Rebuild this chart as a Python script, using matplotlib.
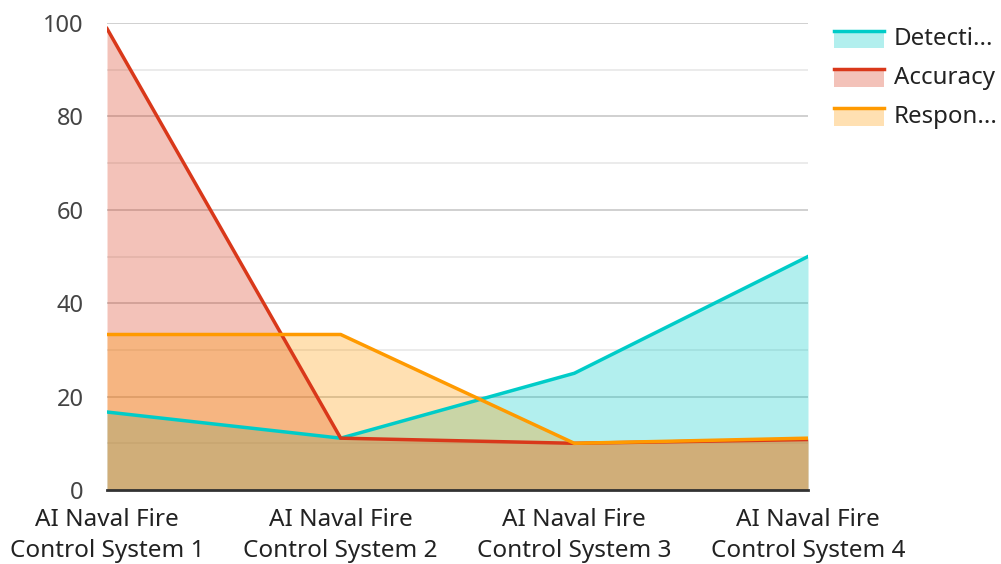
import matplotlib
matplotlib.use("Agg")
import matplotlib.pyplot as plt
from matplotlib.legend_handler import HandlerBase
from matplotlib.patches import Rectangle
from matplotlib.lines import Line2D

plt.rcParams['font.family'] = ['Noto Sans', 'DejaVu Sans']

categories = ["AI Naval Fire\nControl System 1", "AI Naval Fire\nControl System 2",
              "AI Naval Fire\nControl System 3", "AI Naval Fire\nControl System 4"]
series_names = ["Detecti...", "Accuracy", "Respon..."]
detection = [16.7, 11.1, 25.0, 50.0]
accuracy = [98.8, 11.1, 10.0, 10.8]
response = [33.3, 33.3, 10.0, 11.1]
colors = ["#00CCC8", "#D9381A", "#FF9A00"]
yticks = [0, 20, 40, 60, 80, 100]


class AreaHandler(HandlerBase):
    # legend key: light fill block with the line along its top edge
    def create_artists(self, legend, orig_handle, xdescent, ydescent,
                       width, height, fontsize, trans):
        c = orig_handle.get_color()
        top = height * 0.9
        rect = Rectangle((-xdescent, -ydescent - height * 0.2), width, top + height * 0.2,
                         facecolor=c, alpha=0.3, edgecolor='none', transform=trans)
        line = Line2D([-xdescent, -xdescent + width], [top, top], color=c,
                      lw=2.5, transform=trans)
        return [rect, line]


fig = plt.figure(figsize=(10.01, 5.64), dpi=100)
ax = fig.add_axes([0.1069, 0.1312, 0.7003, 0.828])

x = list(range(len(categories)))
handles = []
for vals, col in zip([detection, accuracy, response], colors):
    ax.fill_between(x, vals, 0, color=col, alpha=0.3, lw=0, zorder=2)
for vals, col, name in zip([detection, accuracy, response], colors, series_names):
    ln, = ax.plot(x, vals, color=col, lw=2.5, zorder=3, label=name,
                  solid_joinstyle='miter')
    handles.append(ln)

ax.set_xlim(0, 3)
ax.set_ylim(0, 100)
ax.set_yticks(yticks)
ax.set_yticks([10, 30, 50, 70, 90], minor=True)
ax.grid(axis='y', which='major', color='#C8C8C8', lw=1.2, zorder=1)
ax.grid(axis='y', which='minor', color='#E8E8E8', lw=1.2, zorder=1)
ax.set_xticks(x)
ax.set_xticklabels(categories, linespacing=1.4)
ax.tick_params(axis='y', which='both', length=0, pad=17, labelsize=17, labelcolor='#444444')
ax.tick_params(axis='x', length=0, pad=13, labelsize=17.5, labelcolor='#222222')

for s in ['top', 'right', 'left']:
    ax.spines[s].set_visible(False)
ax.spines['bottom'].set_color('#333333')
ax.spines['bottom'].set_linewidth(2)
ax.spines['bottom'].set_zorder(4)

fig.legend(handles=handles, labels=series_names, handler_map={Line2D: AreaHandler()},
           loc='upper left', bbox_to_anchor=(0.812, 0.99), frameon=False,
           fontsize=17.3, handlelength=2.05, handleheight=0.67, labelspacing=0.62,
           handletextpad=0.43, labelcolor='#222222')

fig.savefig("out.png", dpi=100)
